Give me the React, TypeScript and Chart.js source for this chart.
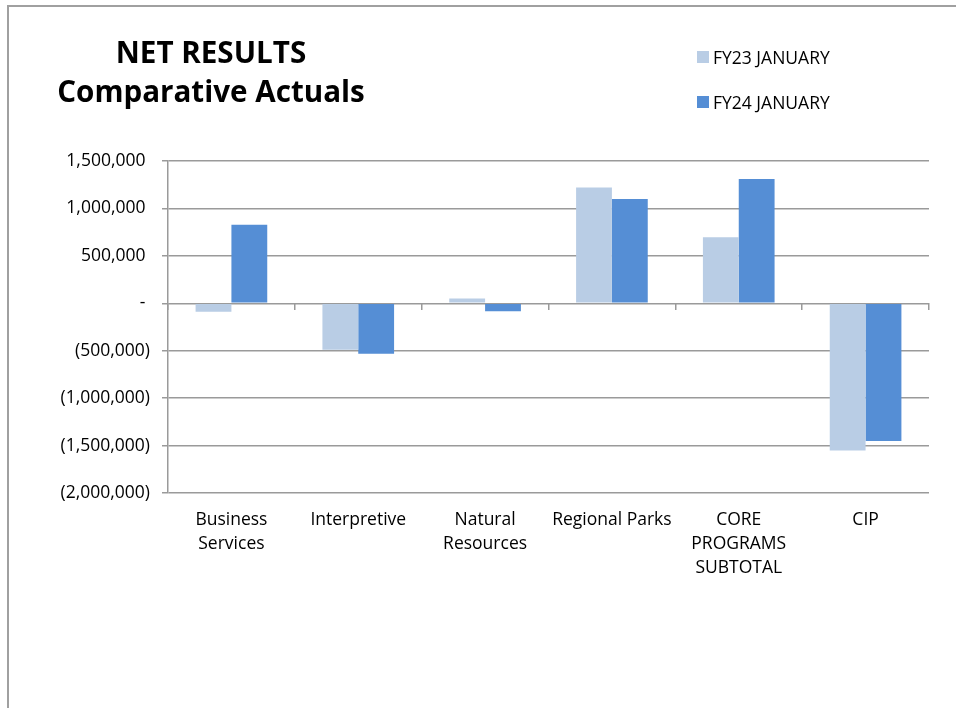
import React, { useEffect, useRef } from "react";
import { Chart, registerables } from "chart.js";

Chart.register(...registerables);

const categories: string[][] = [
  ["Business", "Services"],
  ["Interpretive"],
  ["Natural", "Resources"],
  ["Regional Parks"],
  ["CORE", "PROGRAMS", "SUBTOTAL"],
  ["CIP"],
];
const seriesNames = ["FY23 JANUARY", "FY24 JANUARY"];
const fy23Values = [-88000, -490000, 50000, 1221000, 695000, -1551000];
const fy24Values = [828000, -533000, -84000, 1099000, 1309000, -1453000];
const seriesColors = ["#B9CDE5", "#558ED5"];
const yMin = -2000000;
const yMax = 1500000;
const yStep = 500000;
const titleLines = ["NET RESULTS", "Comparative Actuals"];

const FONT = "'Open Sans', 'DejaVu Sans', sans-serif";
const GRID = "#9a9a9a";

function fmt(v: number): string {
  if (v === 0) return "- ";
  const s = Math.abs(v).toLocaleString("en-US");
  return v < 0 ? `(${s})` : `${s} `;
}

export default function App() {
  const ref = useRef<HTMLCanvasElement | null>(null);

  useEffect(() => {
    if (!ref.current) return;
    const chart = new Chart(ref.current, {
      type: "bar",
      data: {
        labels: categories,
        datasets: [
          {
            label: seriesNames[0],
            data: fy23Values,
            backgroundColor: seriesColors[0],
            categoryPercentage: 0.565,
            barPercentage: 1,
          },
          {
            label: seriesNames[1],
            data: fy24Values,
            backgroundColor: seriesColors[1],
            categoryPercentage: 0.565,
            barPercentage: 1,
          },
        ],
      },
      options: {
        animation: false,
        responsive: true,
        maintainAspectRatio: false,
        layout: { padding: { left: 0, right: 19, top: 155, bottom: 0 } },
        plugins: {
          legend: { display: false },
          title: { display: false },
          tooltip: { enabled: true },
        },
        scales: {
          x: {
            type: "category",
            position: "bottom",
            grid: { display: false, drawTicks: false },
            border: { display: false },
            ticks: {
              color: "#000",
              padding: 15,
              maxRotation: 0,
              autoSkip: false,
              font: { family: FONT, size: 17.5, lineHeight: 1.3715 },
            },
            afterFit: (s: any) => {
              s.height = 207;
            },
          },
          x2: {
            type: "category",
            labels: categories as any,
            position: { y: 0 } as any,
            offset: true,
            grid: {
              display: true,
              offset: true,
              drawOnChartArea: false,
              drawTicks: true,
              tickLength: 7,
              color: GRID,
              lineWidth: 1.5,
            },
            border: { display: false },
            ticks: { display: false },
          },
          y: {
            min: yMin,
            max: yMax,
            grid: {
              color: GRID,
              lineWidth: 1.5,
              drawTicks: true,
              tickLength: 6,
            },
            border: { display: true, color: GRID, width: 1.5 },
            ticks: {
              stepSize: yStep,
              color: "#000",
              padding: 12,
              autoSkip: false,
              font: { family: FONT, size: 17.5 },
              callback: (v: any) => fmt(Number(v)),
            },
            afterFit: (s: any) => {
              s.width = 160;
            },
          },
        },
      },
    });
    return () => chart.destroy();
  }, []);

  return (
    <div
      style={{
        position: "fixed",
        left: 0,
        top: 0,
        width: 956,
        height: 708,
        overflow: "hidden",
        background: "#fff",
      }}
    >
      <div
        style={{
          position: "absolute",
          left: 7,
          top: 5,
          width: 1000,
          height: 1000,
          borderLeft: "2px solid #a0a0a0",
          borderTop: "2px solid #a0a0a0",
        }}
      />
      <div
        style={{
          position: "absolute",
          left: 8,
          top: 6,
          width: 940,
          height: 694,
        }}
      >
        <canvas ref={ref} />
      </div>
      <div
        style={{
          position: "absolute",
          left: 11,
          top: 32,
          width: 400,
          textAlign: "center",
          fontFamily: FONT,
          fontWeight: 700,
          fontSize: 29.6,
          lineHeight: "39px",
          color: "#000",
        }}
      >
        {titleLines.map((t) => (
          <div key={t}>{t}</div>
        ))}
      </div>
      {seriesNames.map((name, i) => (
        <div
          key={name}
          style={{
            position: "absolute",
            left: 697,
            top: (i === 0 ? 57 : 101.5) - 12,
            height: 24,
            display: "flex",
            alignItems: "center",
            fontFamily: FONT,
            fontSize: 17.5,
            color: "#000",
            whiteSpace: "nowrap",
          }}
        >
          <span
            style={{
              display: "inline-block",
              width: 12,
              height: 12,
              background: seriesColors[i],
              marginRight: 4,
            }}
          />
          <span>{name}</span>
        </div>
      ))}
    </div>
  );
}
